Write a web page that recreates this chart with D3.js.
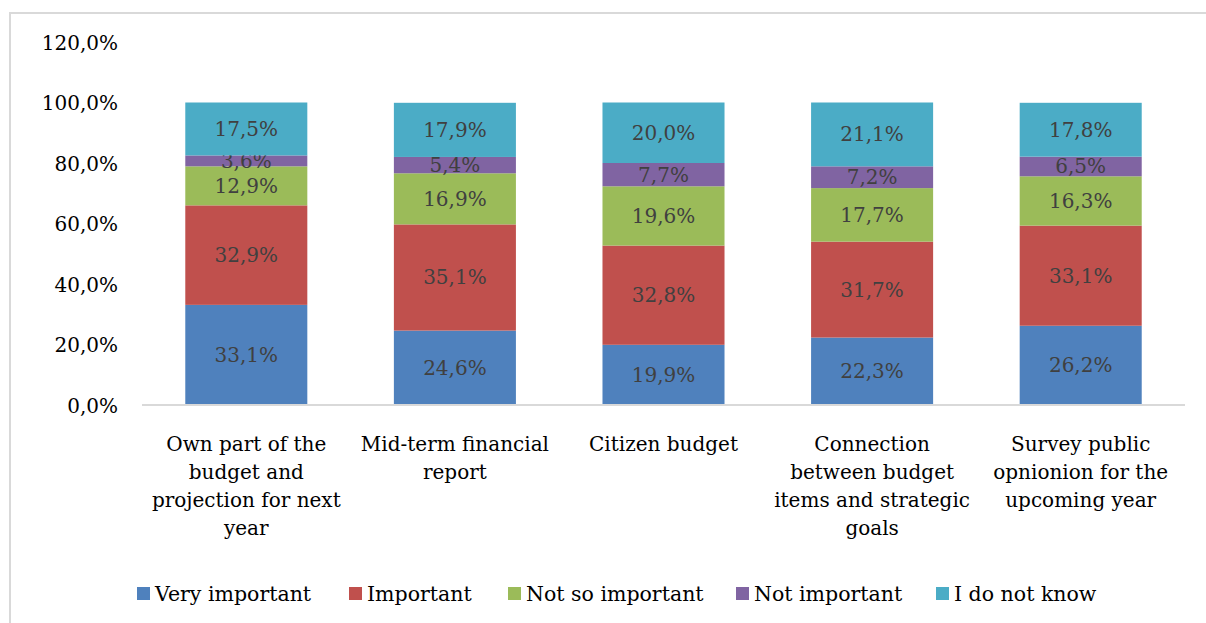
<!DOCTYPE html>
<html>
<head>
<meta charset="utf-8">
<script src="https://cdn.jsdelivr.net/npm/d3@7"></script>
<style>
  body { margin: 0; background: #fff; }
  text { font-family: "DejaVu Serif", serif; }
</style>
</head>
<body>
<svg id="chart" width="1206" height="623"></svg>
<script>
const categories = [
  ["Own part of the", "budget and", "projection for next", "year"],
  ["Mid-term financial", "report"],
  ["Citizen budget"],
  ["Connection", "between budget", "items and strategic", "goals"],
  ["Survey public", "opnionion for the", "upcoming year"]
];
const seriesNames = ["Very important", "Important", "Not so important", "Not important", "I do not know"];
const veryImportant = [33.1, 24.6, 19.9, 22.3, 26.2];
const important = [32.9, 35.1, 32.8, 31.7, 33.1];
const notSoImportant = [12.9, 16.9, 19.6, 17.7, 16.3];
const notImportant = [3.6, 5.4, 7.7, 7.2, 6.5];
const doNotKnow = [17.5, 17.9, 20.0, 21.1, 17.8];
const yTicks = [0, 20, 40, 60, 80, 100, 120];

const colors = ["#4f81bd", "#c0504d", "#9bbb59", "#8064a2", "#4bacc6"];

const seriesValues = [veryImportant, important, notSoImportant, notImportant, doNotKnow];
const rows = categories.map((c, i) => {
  const r = { idx: i };
  seriesNames.forEach((s, j) => r[s] = seriesValues[j][i]);
  return r;
});

const svg = d3.select('#chart');

// outer frame
svg.append('rect')
  .attr('x', 10).attr('y', 13).attr('width', 1200).attr('height', 620)
  .attr('fill', 'none').attr('stroke', '#d9d9d9').attr('stroke-width', 2);

const left = 142, right = 1185;
const xScale = d3.scaleBand().domain(d3.range(categories.length)).range([left, right]).paddingInner(0.415).paddingOuter(0.2075);
const yScale = d3.scaleLinear().domain([0, 120]).range([405, 42]);

const stack = d3.stack().keys(seriesNames)(rows);

// y axis labels
const yAxis = d3.axisLeft(yScale).tickValues(yTicks).tickSize(0).tickPadding(0)
  .tickFormat(d => d3.format('.1f')(d).replace('.', ',') + '%');
const yG = svg.append('g').attr('transform', `translate(118, 0)`).call(yAxis);
yG.select('.domain').remove();
yG.selectAll('text').attr('font-size', 20).attr('fill', '#000').attr('font-family', '"DejaVu Serif", serif').attr('dy', '0.35em');

// bars
stack.forEach((layer, k) => {
  const g = svg.append('g');
  g.selectAll('rect').data(layer).join('rect')
    .attr('x', (d, i) => xScale(i))
    .attr('width', xScale.bandwidth())
    .attr('y', d => yScale(d[1]))
    .attr('height', d => yScale(d[0]) - yScale(d[1]))
    .attr('fill', colors[k]);
  g.selectAll('text').data(layer).join('text')
    .attr('x', (d, i) => xScale(i) + xScale.bandwidth() / 2)
    .attr('y', d => yScale((d[0] + d[1]) / 2))
    .attr('dy', '0.35em')
    .attr('text-anchor', 'middle')
    .attr('font-size', 20)
    .attr('fill', '#404040')
    .text(d => d3.format('.1f')(d[1] - d[0]).replace('.', ',') + '%');
});

// x axis
const xAxis = d3.axisBottom(xScale).tickSize(0).tickFormat('');
const xG = svg.append('g').attr('transform', `translate(0, 405)`).call(xAxis);
xG.select('.domain').attr('stroke', '#d9d9d9').attr('stroke-width', 2)
  .attr('d', `M${left},0H${right}`);

categories.forEach((lines, i) => {
  const t = svg.append('text')
    .attr('text-anchor', 'middle')
    .attr('font-size', 20)
    .attr('font-family', '"DejaVu Serif Condensed", "DejaVu Serif", serif')
    .attr('fill', '#000');
  lines.forEach((line, j) => {
    t.append('tspan')
      .attr('x', xScale(i) + xScale.bandwidth() / 2)
      .attr('y', 451 + j * 28)
      .text(line);
  });
});

// legend
const legendX = [137, 349, 508, 736, 936];
const legend = svg.append('g');
seriesNames.forEach((s, i) => {
  legend.append('rect')
    .attr('x', legendX[i]).attr('y', 587).attr('width', 13).attr('height', 13)
    .attr('fill', colors[i]);
  legend.append('text')
    .attr('x', legendX[i] + 18).attr('y', 594).attr('dy', '0.35em')
    .attr('font-size', 20.5).attr('fill', '#000')
    .attr('font-family', '"DejaVu Serif Condensed", "DejaVu Serif", serif')
    .text(s);
});
</script>
</body>
</html>
